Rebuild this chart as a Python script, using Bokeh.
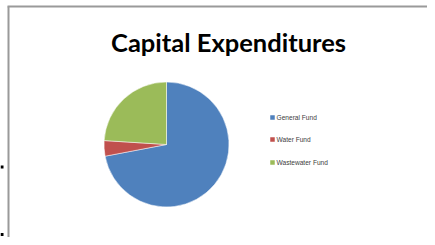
import numpy as np
from bokeh.plotting import figure
from bokeh.models import Range1d, ColumnDataSource
from bokeh.core.properties import value
from bokeh.embed import file_html
from bokeh.resources import INLINE

# ---- data ----
categories = ["General Fund", "Water Fund", "Wastewater Fund"]
amounts = [72, 4, 24]
colors = ["#4F81BD", "#C0504D", "#9BBB59"]
title_text = "Capital Expenditures"

W, H = 427, 237
p = figure(width=W, height=H, output_backend="svg", toolbar_location=None,
           x_range=Range1d(0, W), y_range=Range1d(0, H), min_border=0,
           match_aspect=False)
p.axis.visible = False
p.grid.visible = False
p.outline_line_color = None
p.background_fill_color = "white"
p.border_fill_color = "white"

# chart-area border (top and left visible)
p.segment(x0=[7, 8], y0=[231, 231], x1=[W, 8], y1=[231, 0],
          line_color="#9a9a9a", line_width=2)
# selection handles at left edge
p.rect(x=[1.5, 1.5], y=[70.5, 3], width=3, height=3, fill_color="black",
       line_color=None)

# pie
vals = np.array(amounts, dtype=float)
frac = vals / vals.sum()
cum = np.concatenate([[0], np.cumsum(frac)])
start = np.pi / 2 - cum[:-1] * 2 * np.pi
end = np.pi / 2 - cum[1:] * 2 * np.pi
src = ColumnDataSource(dict(cat=categories, start=start, end=end, color=colors))
cx, cy, r = 166, 93, 62.5
p.wedge(x=cx, y=cy, radius=r, start_angle="start", end_angle="end",
        direction="clock", fill_color="color", line_color="white", line_width=0.5,
        source=src)

# title
p.text(x=[228], y=[196], text=[title_text], text_font=value("Lato"),
       text_font_style="bold", text_font_size="25.5px", text_align="center",
       text_baseline="alphabetic", text_color="black")

# legend
lx = 272
ly = [237 - 117, 237 - 139, 237 - 162]
lsrc = ColumnDataSource(dict(x=[lx] * 3, y=ly, tx=[lx + 4] * 3, cat=categories, color=colors))
p.scatter(x="x", y="y", marker="square", size=4.5, fill_color="color",
          line_color=None, source=lsrc)
p.text(x="tx", y="y", text="cat", source=lsrc, text_font=value("Liberation Sans"),
       text_font_size="6.6px", text_baseline="middle", text_align="left",
       text_color="#404040")

open("out.html", "w").write(file_html(p, INLINE))
